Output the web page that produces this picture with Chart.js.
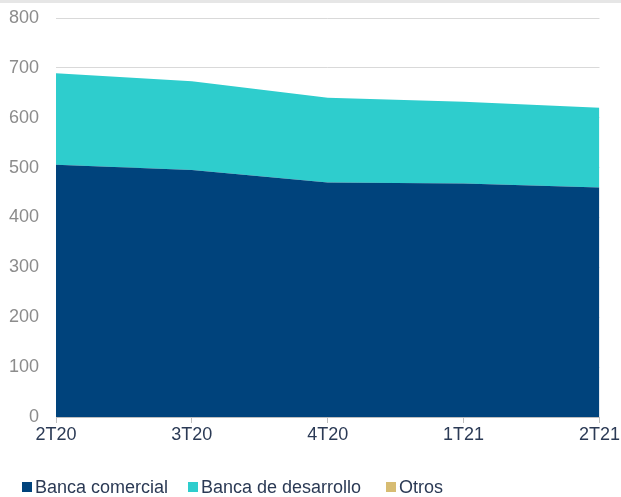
<!DOCTYPE html>
<html lang="es">
<head>
    <meta charset="UTF-8">
    <title>Cartera por tipo de banca</title>
    <style>
        html, body {
            margin: 0;
            padding: 0;
            background: #fff;
        }
        .chart-wrap {
            position: relative;
            width: 621px;
            height: 497px;
            font-family: "Liberation Sans", Arial, sans-serif;
        }
        .top-strip {
            position: absolute;
            left: 0;
            top: 0;
            width: 621px;
            height: 3px;
            background: #e6e6e6;
        }
        #bancaChart {
            position: absolute;
            left: 0;
            top: 0;
        }
        .legend {
            position: absolute;
            left: 22px;
            top: 477px;
            height: 20px;
            font-size: 18px;
            line-height: 20px;
            color: #2b3a55;
            white-space: nowrap;
        }
        .legend-item {
            position: absolute;
            top: 0;
        }
        .legend-box {
            display: inline-block;
            width: 10px;
            height: 10px;
            margin-right: 3px;
            vertical-align: 1px;
        }
    </style>
    <script src="https://cdn.jsdelivr.net/npm/chart.js@4.4.0/dist/chart.umd.min.js"></script>
</head>
<body>
<div class="chart-wrap">
    <canvas id="bancaChart" width="621" height="497"></canvas>
    <div class="top-strip"></div>
    <div class="legend" id="legend"></div>
</div>

<script>
    const quarters = ['2T20', '3T20', '4T20', '1T21', '2T21'];
    const bancaComercial = [506, 495, 470, 468, 460];
    const bancaDesarrollo = [183, 178, 170, 164, 160];
    const otros = [0, 0, 0, 0, 0];
    const yTicks = [0, 100, 200, 300, 400, 500, 600, 700, 800];

    const fontFamily = '"Liberation Sans", Arial, sans-serif';
    const legendOffsets = [0, 166, 364];

    function areaSeries(label, data, color, fillTo) {
        return {
            label: label,
            data: data,
            backgroundColor: color,
            borderColor: color,
            borderWidth: 0,
            pointRadius: 0,
            pointHoverRadius: 0,
            tension: 0,
            fill: fillTo
        };
    }

    const ctx = document.getElementById('bancaChart').getContext('2d');
    const chart = new Chart(ctx, {
        type: 'line',
        data: {
            labels: quarters,
            datasets: [
                areaSeries('Banca comercial', bancaComercial, '#00437c', 'origin'),
                areaSeries('Banca de desarrollo', bancaDesarrollo, '#2ecdcd', '-1'),
                areaSeries('Otros', otros, '#d7bc72', '-1')
            ]
        },
        options: {
            responsive: false,
            animation: false,
            layout: {
                padding: { left: 0, right: 18, top: 18, bottom: 50 }
            },
            scales: {
                x: {
                    offset: false,
                    afterFit: function (axis) { axis.height = 30; },
                    grid: {
                        display: true,
                        drawOnChartArea: false,
                        drawTicks: true,
                        tickLength: 6,
                        color: '#bfbfbf'
                    },
                    border: { display: true, color: '#bfbfbf', width: 1 },
                    ticks: {
                        color: '#2b3a55',
                        font: { family: fontFamily, size: 18 },
                        padding: 1,
                        maxRotation: 0
                    }
                },
                y: {
                    stacked: true,
                    min: 0,
                    max: 800,
                    afterFit: function (axis) {
                        axis.width = 56;
                        axis.paddingTop = 0;
                    },
                    afterBuildTicks: function (axis) {
                        axis.ticks = yTicks.map(v => ({ value: v }));
                    },
                    grid: {
                        color: '#d9d9d9',
                        lineWidth: 1,
                        drawTicks: false
                    },
                    border: { display: false },
                    ticks: {
                        color: '#8c8c8c',
                        font: { family: fontFamily, size: 18 },
                        padding: 17
                    }
                }
            },
            plugins: {
                legend: { display: false },
                tooltip: { enabled: false }
            }
        }
    });

    // legend built from the chart's own datasets
    const legendEl = document.getElementById('legend');
    chart.data.datasets.forEach(function (ds, i) {
        const item = document.createElement('span');
        item.className = 'legend-item';
        item.style.left = legendOffsets[i] + 'px';
        const box = document.createElement('span');
        box.className = 'legend-box';
        box.style.background = ds.backgroundColor;
        item.appendChild(box);
        item.appendChild(document.createTextNode(ds.label));
        legendEl.appendChild(item);
    });
</script>
</body>
</html>
